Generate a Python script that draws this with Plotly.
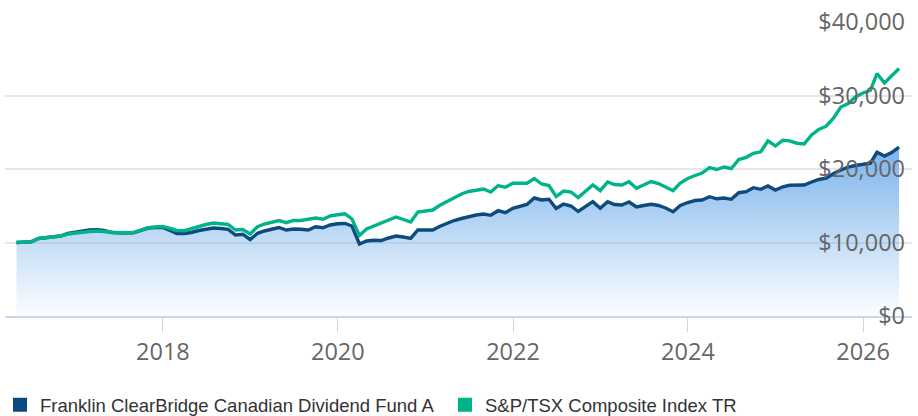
import pandas as pd
import plotly.graph_objects as go

# Month-end dates, Apr 2016 .. May 2026
dates = pd.date_range("2016-04-30", periods=122, freq="ME")

fund_name = "Franklin ClearBridge Canadian Dividend Fund A"
index_name = "S&P/TSX Composite Index TR"

fund = [
    10000, 10040, 10095, 10544, 10680, 10789, 10884, 11224, 11428, 11632,
    11700, 11728, 11632, 11360, 11292, 11292, 11319, 11700, 11972, 12040,
    12040, 11632, 11224, 11224, 11360, 11632, 11836, 11972, 11904, 11796,
    11020, 11129, 10408, 11251, 11564, 11836, 12040, 11700, 11836, 11796,
    11700, 12136, 12000, 12380, 12557, 12585, 12245, 9796, 10204, 10299,
    10272, 10612, 10884, 10748, 10571, 11700, 11700, 11700, 12176, 12612,
    12993, 13265, 13537, 13741, 13877, 13700, 14326, 14054, 14653, 14870,
    15170, 16054, 15782, 15877, 14625, 15238, 14966, 14217, 14897, 15550,
    14653, 15550, 15170, 15102, 15510, 14829, 15034, 15197, 15034, 14693,
    14190, 15034, 15442, 15714, 15782, 16231, 15945, 16054, 15877, 16775,
    16911, 17455, 17238, 17687, 17142, 17578, 17782, 17823, 17823, 18231,
    18571, 18748, 19387, 19863, 20271, 20476, 20680, 20775, 22271, 21768,
    22244, 22992,
]

index_tr = [
    10000, 10040, 10095, 10544, 10680, 10789, 10884, 11156, 11292, 11401,
    11496, 11564, 11455, 11360, 11333, 11333, 11360, 11700, 12013, 12108,
    12176, 11904, 11632, 11605, 11904, 12245, 12449, 12653, 12585, 12449,
    11700, 11768, 11156, 12149, 12517, 12789, 12993, 12693, 12993, 12993,
    13129, 13333, 13170, 13605, 13769, 13904, 13197, 10952, 11836, 12245,
    12557, 12993, 13469, 13129, 12789, 14149, 14285, 14421, 15034, 15578,
    16122, 16598, 16938, 17142, 17278, 16870, 17755, 17510, 18054, 18054,
    18054, 18707, 17959, 17755, 16258, 17006, 16870, 16122, 17006, 17823,
    17047, 18231, 17891, 17823, 18258, 17374, 17823, 18299, 18027, 17550,
    17047, 18095, 18707, 19115, 19455, 20176, 19931, 20271, 20067, 21292,
    21591, 22135, 22339, 23836, 23129, 23918, 23836, 23509, 23401, 24625,
    25373, 25822, 26938, 28434, 28911, 29795, 30339, 30679, 32992, 31700,
    32652, 33672,
]

y_ticks = [0, 10000, 20000, 30000, 40000]
y_tick_labels = ["$0", "$10,000", "$20,000", "$30,000", "$40,000"]

navy = "#0d4a7e"
green = "#00b388"

fig = go.Figure()

fig.add_trace(go.Scatter(
    x=dates, y=fund, mode="lines", name=fund_name,
    line=dict(color=navy, width=3.4),
    fill="tozeroy",
    fillgradient=dict(
        type="vertical", start=0, stop=max(fund),
        colorscale=[[0, "rgba(124,181,236,0.03)"], [1, "rgba(118,176,234,0.97)"]],
    ),
    showlegend=False, hoverinfo="skip",
))
fig.add_trace(go.Scatter(
    x=dates, y=index_tr, mode="lines", name=index_name,
    line=dict(color=green, width=3.4),
    showlegend=False, hoverinfo="skip",
))
# legend entries (square swatches)
fig.add_trace(go.Scatter(
    x=[None], y=[None], mode="markers", name=fund_name,
    marker=dict(symbol="square", size=14, color=navy),
))
fig.add_trace(go.Scatter(
    x=[None], y=[None], mode="markers", name=index_name,
    marker=dict(symbol="square", size=14, color=green),
))

fig.update_layout(
    width=918, height=416,
    margin=dict(l=5, r=6, t=22, b=100, autoexpand=False),
    paper_bgcolor="white", plot_bgcolor="white",
    showlegend=True,
    legend=dict(
        orientation="h",
        xref="container", x=-0.021, xanchor="left",
        yref="container", y=0.026, yanchor="middle",
        font=dict(family="Liberation Sans, Arial, sans-serif", size=18.5, color="#333333"),
        itemwidth=30, entrywidth=400, entrywidthmode="pixels",
        bgcolor="rgba(0,0,0,0)",
    ),
    xaxis=dict(
        type="date",
        range=["2016-03-13", "2026-07-24"],
        tick0="2018-01-01", dtick="M24", tickformat="%Y",
        showgrid=False, zeroline=False,
        showline=True, linecolor="#ccd6eb", linewidth=2,
        ticks="outside", ticklen=14, tickwidth=1, tickcolor="#ccd6eb",
        tickfont=dict(family="Open Sans, sans-serif", size=23.5, color="#666666"),
        fixedrange=True,
    ),
    yaxis=dict(
        range=[0, 40000], tickvals=y_ticks, ticktext=y_tick_labels,
        side="right", ticklabelposition="inside",
        ticklabeloverflow="allow", ticklabelstandoff=4,
        showgrid=True, gridcolor="#e6e6e6", gridwidth=2,
        zeroline=False, showline=False, ticks="",
        tickfont=dict(family="Open Sans, sans-serif", size=23.5, color="#666666"),
        fixedrange=True,
    ),
)

fig.write_html(
    "out.html",
    config={"displayModeBar": False, "staticPlot": True},
    post_script="document.body.style.margin='0px';",
)
